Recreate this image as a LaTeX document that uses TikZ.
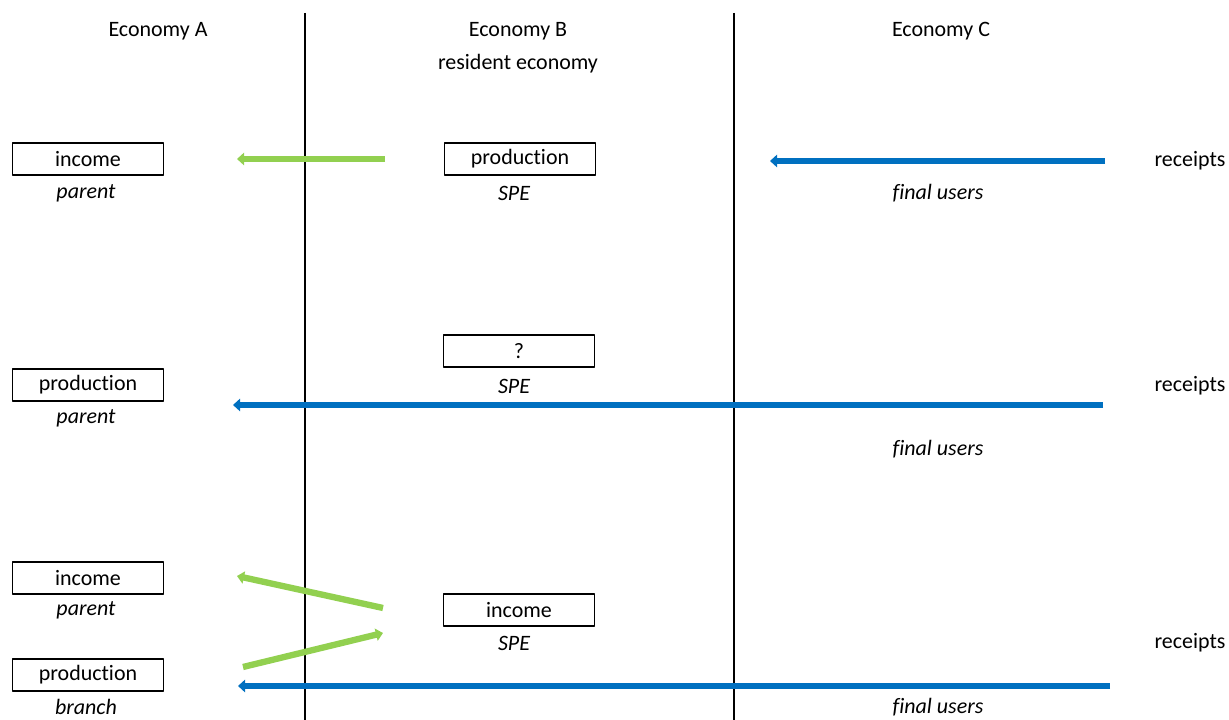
\documentclass[tikz,border=0pt]{standalone}
\usepackage{fontspec}
\setmainfont[Ligatures=NoCommon]{Carlito}
\usetikzlibrary{arrows.meta}
\definecolor{flowgreen}{RGB}{146,208,80}
\definecolor{flowblue}{RGB}{0,112,192}
\newcommand{\labelsize}{\fontsize{12.5}{15}\selectfont}
\tikzset{
	unitbox/.style={draw, line width=0.8pt, minimum width=3.02cm, minimum height=0.64cm, inner sep=0pt},
	role/.style={font=\labelsize\itshape},
	greenflow/.style={flowgreen, line width=3.6pt, -{Triangle[width=7pt,length=4pt]}},
	blueflow/.style={flowblue, line width=3.6pt, -{Triangle[width=7pt,length=4pt]}}
}
\begin{document}
\begin{tikzpicture}[font=\labelsize, line join=round]
					\useasboundingbox (0,0) rectangle (24.58,14.4);
					%%%%%%%%%%%%%%%%%%%%%%%%%%%%%%%%%
					\coordinate (L1) at (6.1,14.14);
					\coordinate (L1') at (6.1,0);
					\coordinate (L2) at (14.68,14.14);
					\coordinate (L2') at (14.68,0);
					\coordinate (G1) at (7.7,11.22);
					\coordinate (G1') at (4.74,11.22);
					\coordinate (B1) at (22.1,11.18);
					\coordinate (B1') at (15.4,11.18);
					\coordinate (B2) at (22.06,6.3);
					\coordinate (B2') at (4.66,6.3);
					\coordinate (G2) at (7.66,2.24);
					\coordinate (G2') at (4.74,2.88);
					\coordinate (G3) at (4.86,1.06);
					\coordinate (G3') at (7.66,1.74);
					\coordinate (B3) at (22.2,0.68);
					\coordinate (B3') at (4.76,0.68);
					%%%%%%%%%%%%%%%%%%%%%%%%%%%%%%%%%
					\draw[line width=0.8pt] (L1) -- (L1');
					\draw[line width=0.8pt] (L2) -- (L2');
					\node (ecoA) at (3.16,13.78) {Economy A};
					\node (ecoB) at (10.36,13.78) {Economy B};
					\node (resB) at (10.36,13.12) {resident economy};
					\node (ecoC) at (18.82,13.78) {Economy C};
					%%%%%%%%%%%%%%%%%%%%%%%%%%%%%%%%%
					\node[unitbox] (incA1) at (1.76,11.22) {income};
					\node[role] (parA1) at (1.72,10.54) {parent};
					\node[unitbox] (prodB1) at (10.4,11.22) {production};
					\node[role] (speB1) at (10.28,10.54) {SPE};
					\node[role] (finC1) at (18.76,10.54) {final users};
					\node (recC1) at (23.8,11.18) {receipts};
					\draw[greenflow] (G1) -- (G1');
					\draw[blueflow] (B1) -- (B1');
					%%%%%%%%%%%%%%%%%%%%%%%%%%%%%%%%%
					\node[unitbox] (unkB2) at (10.38,7.38) {?};
					\node[role] (speB2) at (10.28,6.68) {SPE};
					\node[unitbox] (prodA2) at (1.76,6.7) {production};
					\node[role] (parA2) at (1.72,6.04) {parent};
					\node (recC2) at (23.8,6.68) {receipts};
					\node[role] (finC2) at (18.76,5.42) {final users};
					\draw[blueflow] (B2) -- (B2');
					%%%%%%%%%%%%%%%%%%%%%%%%%%%%%%%%%
					\node[unitbox] (incA3) at (1.76,2.84) {income};
					\node[role] (parA3) at (1.72,2.2) {parent};
					\node[unitbox] (incB3) at (10.38,2.2) {income};
					\node[role] (speB3) at (10.28,1.54) {SPE};
					\node[unitbox] (prodA3) at (1.76,0.9) {production};
					\node[role] (brA3) at (1.72,0.26) {branch};
					\node (recC3) at (23.8,1.54) {receipts};
					\node[role] (finC3) at (18.76,0.26) {final users};
					\draw[greenflow] (G2) -- (G2');
					\draw[greenflow] (G3) -- (G3');
					\draw[blueflow] (B3) -- (B3');
					%%%%%%%%%%%%%%%%%%%%%%%%%%%%%%%%%
\end{tikzpicture}
\end{document}
